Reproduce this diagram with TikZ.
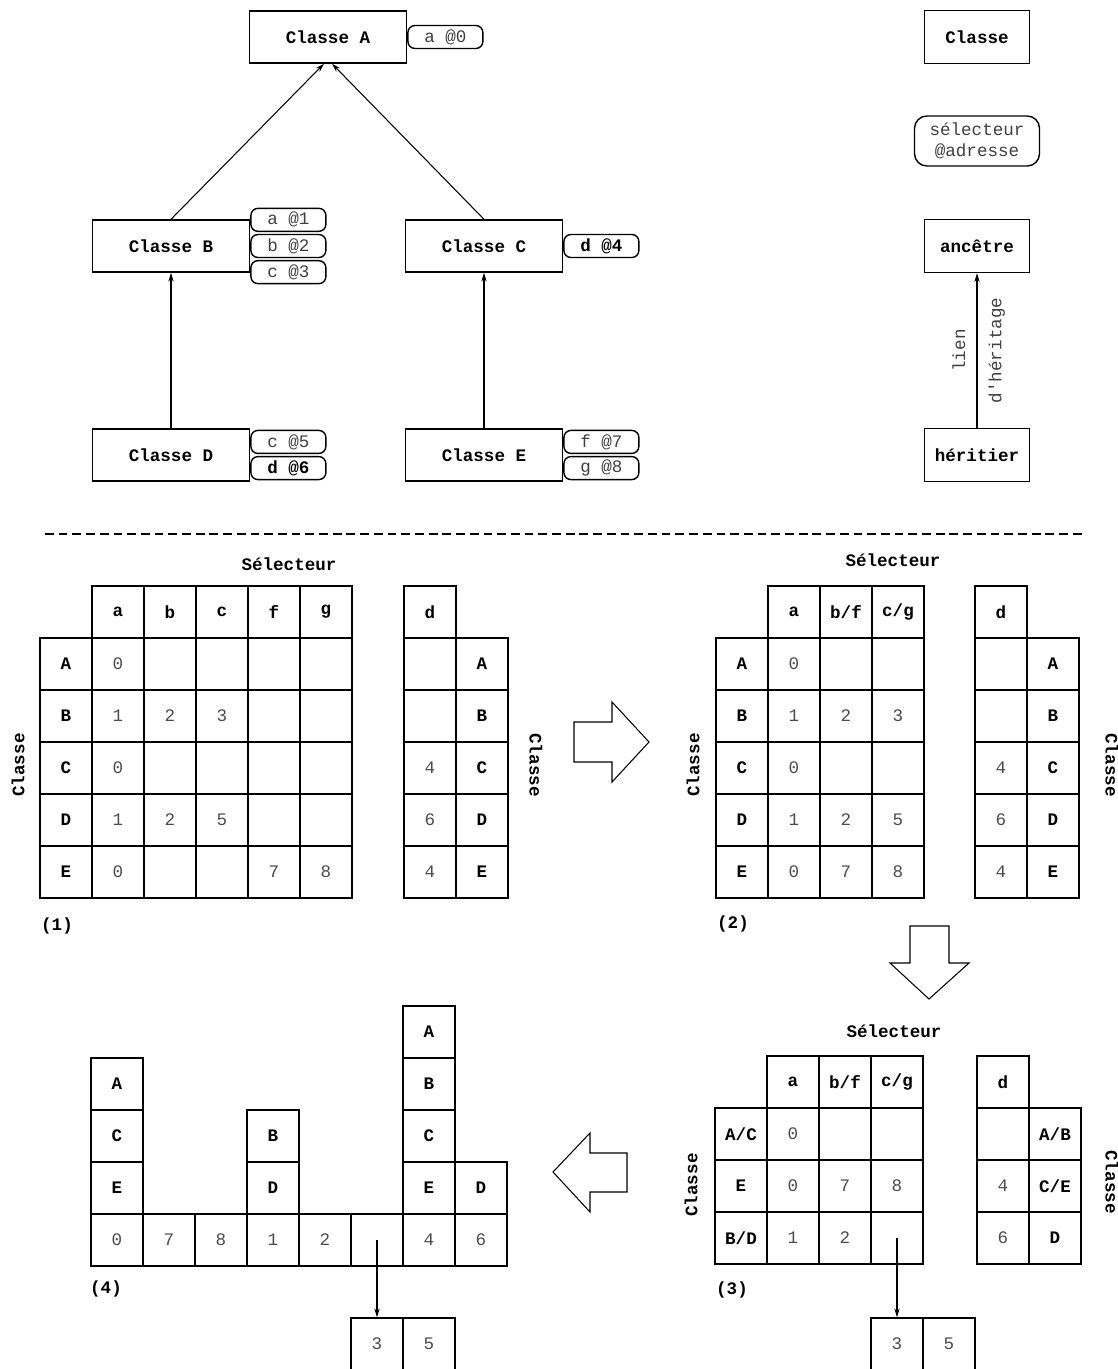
\documentclass[tikz,border=0pt]{standalone}
\usepackage{fontspec}
\usepackage{tikz}
\usetikzlibrary{arrows.meta}
\newfontfamily\mono{Liberation Mono}

\tikzset{
  cls/.style={draw, line width=0.8pt, minimum width=3.14cm, minimum height=1.04cm, inner sep=0pt, font=\mono\bfseries},
  leg/.style={cls, minimum width=2.1cm, minimum height=1.06cm},
  sel/.style={draw, line width=0.8pt, rounded corners=4pt, minimum width=1.5cm, minimum height=0.46cm, inner sep=0pt, font=\mono, text=black!75},
  cell/.style={draw, line width=0.8pt, minimum size=1.04cm, inner sep=0pt},
  hd/.style={cell, font=\mono\bfseries},
  num/.style={cell, font=\mono, text=black!70},
  lbl/.style={font=\mono\bfseries},
  inh/.style={-{Stealth[length=5pt,width=3pt]}, line width=0.6pt},
  blk/.style={line width=0.6pt, line join=miter},
}

\begin{document}
\begin{tikzpicture}[x=0.02cm, y=-0.02cm]
    \useasboundingbox (0,0) rectangle (1118,1369);

    % Class hierarchy
    \node[cls] (clsA) at (328,37) {Classe A};
    \node[cls] (clsB) at (171,246) {Classe B};
    \node[cls] (clsC) at (484,246) {Classe C};
    \node[cls] (clsD) at (171,455) {Classe D};
    \node[cls] (clsE) at (484,455) {Classe E};
    % Method slots
    \node[sel, anchor=west] (sA0) at (clsA.east) {a @0};
    \node[sel, anchor=west] (sB2) at (clsB.east) {b @2};
    \node[sel, anchor=south west] (sB1) at ([yshift=1pt]sB2.north west) {a @1};
    \node[sel, anchor=north west] (sB3) at ([yshift=-1pt]sB2.south west) {c @3};
    \node[sel, anchor=west, font=\mono\bfseries, text=black] (sC4) at (clsC.east) {d @4};
    \node[sel, anchor=south west] (sD5) at ([yshift=0.5pt]clsD.east) {c @5};
    \node[sel, anchor=north west, font=\mono\bfseries, text=black] (sD6) at ([yshift=-0.5pt]clsD.east) {d @6};
    \node[sel, anchor=south west] (sE7) at ([yshift=0.5pt]clsE.east) {f @7};
    \node[sel, anchor=north west] (sE8) at ([yshift=-0.5pt]clsE.east) {g @8};
    % Inheritance links
    \draw[inh] (clsB.north) -- ([xshift=-0.08cm]clsA.south);
    \draw[inh] (clsC.north) -- ([xshift=0.08cm]clsA.south);
    \draw[inh] (clsD) -- (clsB);
    \draw[inh] (clsE) -- (clsC);

    % Legend
    \node[leg] (lgCls) at (977,37) {Classe};
    \node[sel, minimum width=2.5cm, minimum height=1cm, rounded corners=7pt, align=center] (lgSel) at (977,141) {sélecteur\\@adresse};
    \node[leg] (lgAnc) at (977,246) {ancêtre};
    \node[leg] (lgHer) at (977,455) {héritier};
    \draw[inh] (lgHer) -- node[rotate=90, above=3pt, font=\mono, text=black!75] (lgLien) {lien}
        node[rotate=90, below=3pt, font=\mono, text=black!75] (lgDh) {d'héritage} (lgAnc);

    % Separator
    \draw[line width=1.1pt, dash pattern=on 5pt off 2.8pt] (45,534) -- (1082,534);

    % Table (1)
    \node[lbl] (t1sel) at (289,564) {Sélecteur};
    \foreach \s [count=\i] in {a,b,c,f,g}
        \node[hd] (t1h\i) at ({66+52*\i},612) {\s};
    \foreach \r [count=\j] in {A,B,C,D,E}
        \node[hd] (t1r\j) at (66,{612+52*\j}) {\r};
    \foreach \row [count=\j] in {{0,{},{},{},{}},{1,2,3,{},{}},{0,{},{},{},{}},{1,2,5,{},{}},{0,{},{},7,8}}
        \foreach \v [count=\i] in \row
            \node[num] (t1v\j\i) at ({66+52*\i},{612+52*\j}) {\v};
    \node[hd] (t1d) at (430,612) {d};
    \foreach \v/\r [count=\j] in {{}/A,{}/B,4/C,6/D,4/E} {
        \node[num] (t1d\j) at (430,{612+52*\j}) {\v};
        \node[hd] (t1k\j) at (482,{612+52*\j}) {\r};
    }
    \node[lbl, rotate=90] (t1cl) at (18,765) {Classe};
    \node[lbl, rotate=-90] (t1cr) at (536,765) {Classe};
    \node[lbl] (t1n) at (57,926) {(1)};

    % Arrow (1) -> (2)
    \draw[blk] (574,722) -- (612,722) -- (612,702) -- (649,742) -- (612,782) -- (612,762) -- (574,762) -- cycle;

    % Table (2)
    \node[lbl] (t2sel) at (893,560) {Sélecteur};
    \foreach \s [count=\i] in {a,b/f,c/g}
        \node[hd] (t2h\i) at ({742+52*\i},612) {\s};
    \foreach \r [count=\j] in {A,B,C,D,E}
        \node[hd] (t2r\j) at (742,{612+52*\j}) {\r};
    \foreach \row [count=\j] in {{0,{},{}},{1,2,3},{0,{},{}},{1,2,5},{0,7,8}}
        \foreach \v [count=\i] in \row
            \node[num] (t2v\j\i) at ({742+52*\i},{612+52*\j}) {\v};
    \node[hd] (t2d) at (1001,612) {d};
    \foreach \v/\r [count=\j] in {{}/A,{}/B,4/C,6/D,4/E} {
        \node[num] (t2d\j) at (1001,{612+52*\j}) {\v};
        \node[hd] (t2k\j) at (1053,{612+52*\j}) {\r};
    }
    \node[lbl, rotate=90] (t2cl) at (693,765) {Classe};
    \node[lbl, rotate=-90] (t2cr) at (1112,765) {Classe};
    \node[lbl] (t2n) at (733,924) {(2)};

    % Arrow (2) -> (3)
    \draw[blk] (910,926) -- (949,926) -- (949,963) -- (969,963) -- (929,999) -- (890,963) -- (910,963) -- cycle;

    % Table (3)
    \node[lbl] (t3sel) at (894,1031) {Sélecteur};
    \foreach \s [count=\i] in {a,b/f,c/g}
        \node[hd] (t3h\i) at ({741+52*\i},1082) {\s};
    \foreach \r [count=\j] in {A/C,E,B/D}
        \node[hd] (t3r\j) at (741,{1082+52*\j}) {\r};
    \foreach \row [count=\j] in {{0,{},{}},{0,7,8},{1,2,{}}}
        \foreach \v [count=\i] in \row
            \node[num] (t3v\j\i) at ({741+52*\i},{1082+52*\j}) {\v};
    \node[hd] (t3d) at (1003,1082) {d};
    \node[num] (t3d1) at (1003,1134) {};
    \node[num] (t3d2) at (1003,1186) {4};
    \node[num] (t3d3) at (1003,1238) {6};
    \node[hd] (t3k1) at (1055,1134) {A/B};
    \node[hd] (t3k2) at (1055,1186) {C/E};
    \node[hd] (t3k3) at (1055,1238) {D};
    \node[lbl, rotate=90] (t3cl) at (691,1185) {Classe};
    \node[lbl, rotate=-90] (t3cr) at (1112,1182) {Classe};
    \node[lbl] (t3n) at (732,1290) {(3)};
    % Overflow of (3)
    \node[num] (t3x3) at (897,1344) {3};
    \node[num] (t3x5) at (949,1344) {5};
    \draw[inh] (t3v33.center) -- (t3x3.north);

    % Arrow (3) -> (4)
    \draw[blk] (627,1153) -- (590,1153) -- (590,1133) -- (553,1172) -- (590,1212) -- (590,1192) -- (627,1192) -- cycle;

    % Table (4)
    \foreach \v [count=\i] in {0,7,8,1,2,{},4,6}
        \node[num] (t4b\i) at ({65+52*\i},1240) {\v};
    \foreach \r/\y in {A/1084,C/1136,E/1188}
        \node[hd] (t4s\r) at (117,\y) {\r};
    \foreach \r/\y in {B/1136,D/1188}
        \node[hd] (t4m\r) at (273,\y) {\r};
    \foreach \r/\y in {A/1032,B/1084,C/1136,E/1188}
        \node[hd] (t4t\r) at (429,\y) {\r};
    \node[hd] (t4uD) at (481,1188) {D};
    \node[lbl] (t4n) at (106,1289) {(4)};
    % Overflow of (4)
    \node[num] (t4x3) at (377,1344) {3};
    \node[num] (t4x5) at (429,1344) {5};
    \draw[inh] (t4b6.center) -- (t4x3.north);
\end{tikzpicture}
\end{document}
